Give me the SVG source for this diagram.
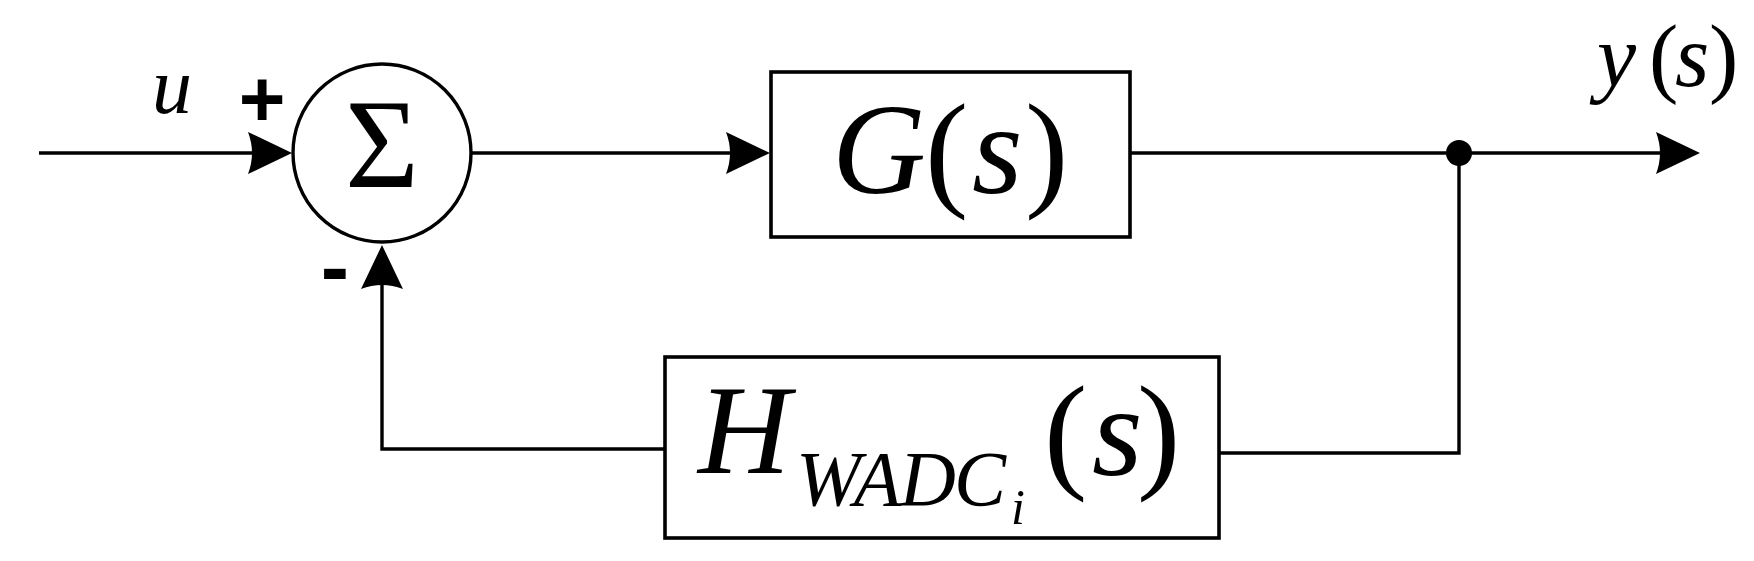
<svg xmlns="http://www.w3.org/2000/svg" width="1754" height="561" viewBox="0 0 1754 561">
<style>
.ln{fill:none;stroke:#000;stroke-width:3.4}
.box{fill:#fff;stroke:#000;stroke-width:3.6}
</style>
<defs>
<path id="ah" d="M0,0 L-44,-21 Q-36,0 -44,21 Z" fill="#000"/>
</defs>
<rect width="1754" height="561" fill="#fff"/>
<g id="connectors">
<path class="ln" d="M39,153 H256"/>
<path class="ln" d="M472,153 H735"/>
<path class="ln" d="M1130,153 H1664"/>
<path class="ln" d="M1459,153 V453 H1219"/>
<path class="ln" d="M665,449 H382 V280"/>
<use href="#ah" x="292" y="153"/>
<use href="#ah" x="770" y="153"/>
<use href="#ah" x="1700" y="153"/>
<use href="#ah" transform="translate(382,245) rotate(-90)"/>
<circle cx="1459" cy="153" r="13" fill="#000"/>
</g>
<g id="sum">
<circle class="ln" cx="382" cy="153" r="89"/>
<text font-family="Liberation Serif, DejaVu Serif, serif" x="382" y="187" font-size="127" text-anchor="middle">Σ</text>
<text font-family="Liberation Sans, Arial, sans-serif" font-weight="bold" x="262" y="126" font-size="80" text-anchor="middle">+</text>
<text font-family="Liberation Sans, Arial, sans-serif" font-weight="bold" x="335" y="296" font-size="85" text-anchor="middle">-</text>
</g>
<g id="input-label">
<text font-family="Liberation Serif, DejaVu Serif, serif" font-style="italic" x="152" y="113" font-size="80">u</text>
</g>
<g id="G">
<rect class="box" x="771" y="72" width="359" height="165"/>
<text font-family="Liberation Serif, DejaVu Serif, serif" font-size="130" y="193"><tspan font-style="italic" x="832">G</tspan><tspan x="925">(</tspan><tspan font-style="italic" x="972">s</tspan><tspan x="1025">)</tspan></text>
</g>
<g id="H">
<rect class="box" x="665" y="357" width="554" height="181"/>
<text font-family="Liberation Serif, DejaVu Serif, serif" font-style="italic" x="698" y="473" font-size="128">H</text>
<text font-family="Liberation Serif, DejaVu Serif, serif" font-style="italic" x="796" y="505" font-size="78" textLength="210" lengthAdjust="spacing">WADC</text>
<text font-family="Liberation Serif, DejaVu Serif, serif" font-style="italic" x="1011" y="524" font-size="50">i</text>
<text font-family="Liberation Serif, DejaVu Serif, serif" font-size="130" y="475"><tspan x="1044">(</tspan><tspan font-style="italic" x="1092">s</tspan><tspan x="1137">)</tspan></text>
</g>
<g id="output-label">
<text font-family="Liberation Serif, DejaVu Serif, serif" font-size="88" y="86"><tspan font-style="italic" x="1597">y</tspan><tspan x="1649">(</tspan><tspan font-style="italic" x="1675">s</tspan><tspan x="1709">)</tspan></text>
</g>
</svg>
